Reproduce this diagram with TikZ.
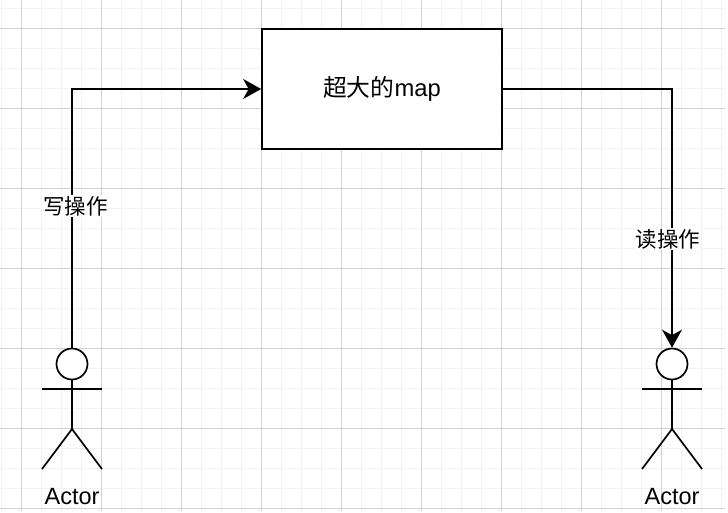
\documentclass[tikz,border=0pt]{standalone}
\usepackage{fontspec}
\setmainfont{Liberation Sans}
\newfontfamily\cjk{Noto Sans CJK SC}
\usetikzlibrary{arrows.meta,positioning}
\tikzset{
  gridminor/.style={draw=black!5,line width=1.5pt},
  gridmajor/.style={draw=black!18,line width=1pt},
  line/.style={draw=black,line width=1.7pt},
  mapbox/.style={line,minimum width=240pt,minimum height=120pt,inner sep=0pt,font=\fontsize{23.8}{28}\selectfont},
  head/.style={circle,line,minimum size=31pt,inner sep=0pt,fill=white},
  opname/.style={fill=white,inner sep=1pt,font=\cjk\fontsize{21.5}{25}\selectfont},
  actorname/.style={font=\fontsize{23.5}{27}\selectfont},
  flow/.style={line,-{Stealth[length=18pt,width=20pt,inset=5.5pt]}},
}
\begin{document}
\begin{tikzpicture}[x=1pt,y=-1pt]
\useasboundingbox(0,0)rectangle(728,513);
\fill[white](0,0)rectangle(728,513);
\foreach \x in {1.7,21.7,...,722}{\draw[gridminor](\x,0)--(\x,511);}
\foreach \y in {8.3,28.3,...,510}{\draw[gridminor](0,\y)--(725,\y);}
\foreach \x in {21.7,101.7,...,722}{\draw[gridmajor](\x,0)--(\x,511);}
\foreach \y in {28.3,108.3,...,510}{\draw[gridmajor](0,\y)--(725,\y);}

\node[mapbox,fill=white](bigmap)at(382,89){\raisebox{-1pt}{{\cjk 超大的}map}};

\node[head](headL)at(72,364){};
\node[head](headR)at(672,364){};
\foreach \h/\c in {headL/72,headR/672}{
  \draw[line](\h.south)--(\c,429)coordinate(hip\h);
  \draw[line](\c-30,389)--(\c+30,389);
  \draw[line](\c-30,469)--(hip\h)--(\c+30,469);
}
\node[actorname](actorL)at(72,497){Actor};
\node[actorname](actorR)at(672,497){Actor};

\draw[flow](headL.north)|-(bigmap.west);
\draw[flow](bigmap.east)-|(headR.north);
\node[opname](write)at(75.5,206){写操作};
\node[opname](read)at(668,239){读操作};
\end{tikzpicture}
\end{document}
